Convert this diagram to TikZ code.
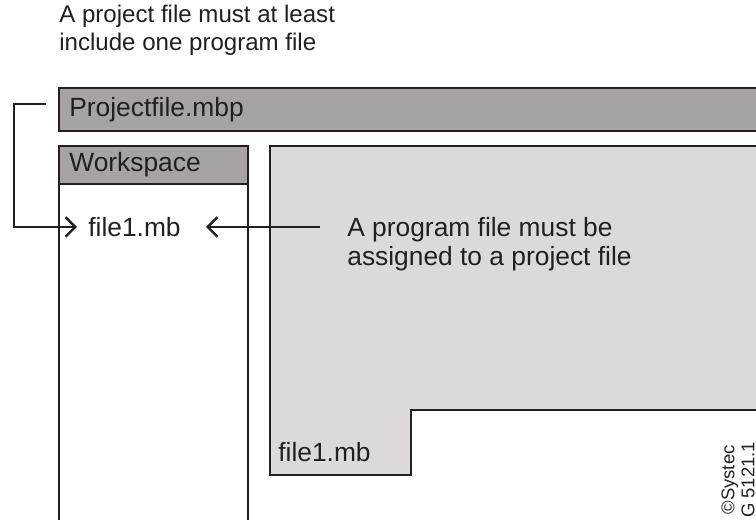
\documentclass[tikz,border=0pt]{standalone}
\usepackage{fontspec}
\setmainfont{Liberation Sans}
\usetikzlibrary{arrows.meta,positioning}

\definecolor{darkgray}{RGB}{168,163,163}
\definecolor{panelgray}{RGB}{222,217,217}
\definecolor{ink}{RGB}{35,31,32}

\tikzset{
  box/.style={draw=ink, line width=1.1pt},
  label/.style={text=ink, font=\fontsize{15}{17}\selectfont, inner sep=0pt, anchor=west},
  pointer/.style={draw=ink, line width=1.1pt, -{Straight Barb[length=5.5pt,width=11pt,line width=1.4pt]}}
}

\begin{document}
\begin{tikzpicture}
  \useasboundingbox (0,0) rectangle (15.12,10.4);

  % project file bar
  \fill[darkgray] (1.18,7.78) rectangle (15.12,8.64);
  \draw[box] (15.12,8.64) -- (1.18,8.64) -- (1.18,7.78) -- (15.12,7.78);

  % workspace
  \fill[darkgray] (1.18,6.72) rectangle (4.96,7.48);
  \draw[box] (1.18,0) -- (1.18,7.48) -- (4.96,7.48) -- (4.96,0);
  \draw[box] (1.18,6.72) -- (4.96,6.72);

  % program window with tab
  \fill[panelgray] (15.12,7.48) -- (5.40,7.48) -- (5.40,0.90) -- (8.22,0.90)
    -- (8.22,2.20) -- (15.12,2.20) -- cycle;
  \draw[box] (15.12,7.48) -- (5.40,7.48) -- (5.40,0.90) -- (8.22,0.90)
    -- (8.22,2.20) -- (15.12,2.20);

  \node[label, font=\fontsize{13.7}{15.5}\selectfont] (top) at (1.18,9.78) {\begin{tabular}{@{}l@{}}A project file must at least\\include one program file\end{tabular}};
  \node[label] (proj) at (1.38,8.20) {Projectfile.mbp};
  \node[label] (work) at (1.38,7.10) {Workspace};
  \node[label] (file) at (1.76,5.86) {file1.mb};
  \node[label] (tab) at (5.56,1.36) {file1.mb};
  \node[label] (note) at (6.94,5.50) {\begin{tabular}{@{}l@{}}A program file must be\\assigned to a project file\end{tabular}};
  \node[text=ink, font=\fontsize{10.5}{11.5}\selectfont, rotate=90, inner sep=0pt, align=center] (copy) at (14.76,0.80) {©Systec\\G 5121.1};

  \coordinate (projend) at (0.92,8.32);
  \coordinate (noteend) at (6.40,5.86);

  \draw[pointer] (projend) -- (0.28,8.32) |- ([xshift=-0.22cm]file.west);
  \draw[pointer] (noteend) -- ([xshift=0.5cm]file.east);
\end{tikzpicture}
\end{document}
